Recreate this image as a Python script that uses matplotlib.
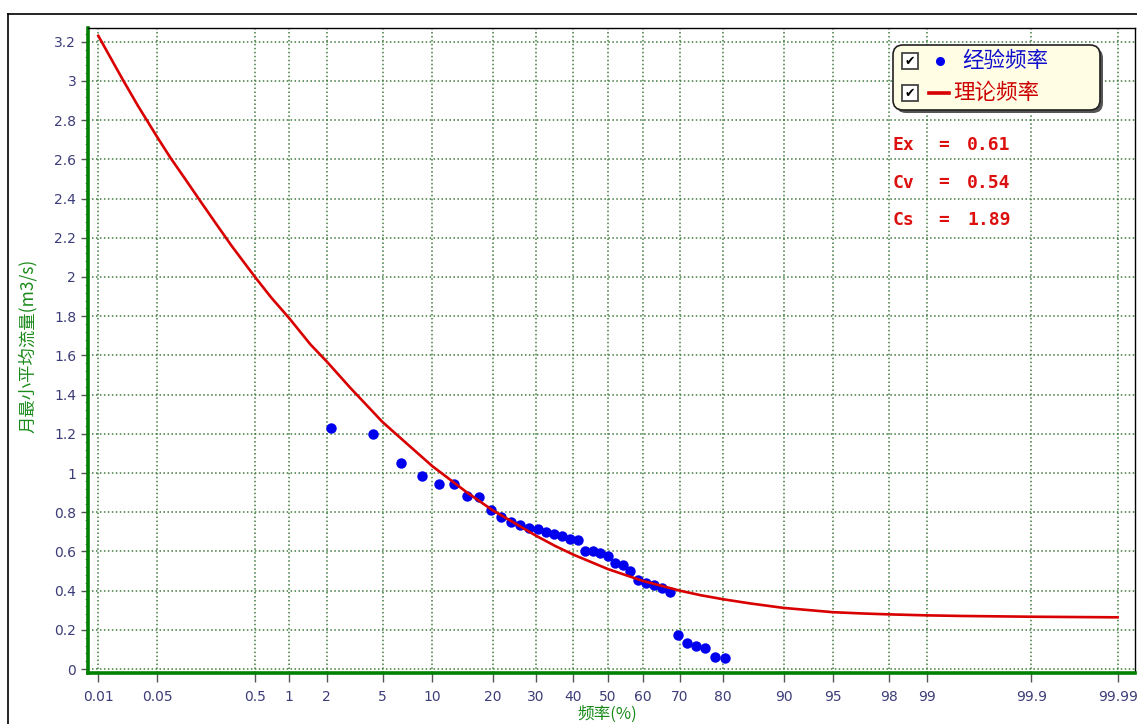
import numpy as np
import matplotlib
matplotlib.use("Agg")
import matplotlib.pyplot as plt
from matplotlib.patches import FancyBboxPatch, Rectangle
from matplotlib.lines import Line2D
from matplotlib.ticker import FixedLocator, MultipleLocator
from statistics import NormalDist

CJK = ['Noto Sans CJK SC', 'DejaVu Sans']

# empirical frequency (%) and monthly minimum mean flow (m3/s)
emp_freq = [2.17, 4.35, 6.52, 8.70, 10.87, 13.04, 15.22, 17.39, 19.57, 21.74,
            23.91, 26.09, 28.26, 30.43, 32.61, 34.78, 36.96, 39.13, 41.30, 43.48,
            45.65, 47.83, 50.00, 52.17, 54.35, 56.52, 58.70, 60.87, 63.04, 65.22,
            67.39, 69.57, 71.74, 73.91, 76.09, 78.26, 80.43]
emp_flow = [1.23, 1.20, 1.05, 0.985, 0.945, 0.945, 0.885, 0.88, 0.81, 0.775,
            0.75, 0.735, 0.72, 0.715, 0.70, 0.69, 0.68, 0.665, 0.66, 0.60,
            0.60, 0.59, 0.575, 0.54, 0.53, 0.50, 0.455, 0.44, 0.427, 0.415,
            0.394, 0.173, 0.131, 0.117, 0.105, 0.063, 0.055]

# theoretical curve
th_freq = [0.01, 0.015, 0.02, 0.03, 0.05, 0.07, 0.1, 0.15, 0.2, 0.3, 0.5, 0.7,
           1, 1.5, 2, 3, 5, 7, 10, 15, 20, 25, 30, 35, 40, 50, 60, 70, 75, 80,
           85, 90, 95, 97, 98, 99, 99.5, 99.9, 99.99]
th_flow = [3.23, 3.10, 3.006, 2.875, 2.715, 2.61, 2.505, 2.38, 2.29, 2.16, 2.00,
           1.895, 1.79, 1.655, 1.57, 1.435, 1.26, 1.155, 1.035, 0.905, 0.81,
           0.742, 0.68, 0.628, 0.584, 0.51, 0.45, 0.40, 0.377, 0.356, 0.335,
           0.312, 0.290, 0.283, 0.279, 0.274, 0.271, 0.267, 0.264]

xticks = [0.01, 0.05, 0.5, 1, 2, 5, 10, 20, 30, 40, 50, 60, 70, 80, 90, 95,
          98, 99, 99.9, 99.99]
xticklabels = ['0.01', '0.05', '0.5', '1', '2', '5', '10', '20', '30', '40',
               '50', '60', '70', '80', '90', '95', '98', '99', '99.9', '99.99']
yticks = [0, 0.2, 0.4, 0.6, 0.8, 1, 1.2, 1.4, 1.6, 1.8, 2, 2.2, 2.4, 2.6, 2.8,
          3, 3.2]
yticklabels = ['0', '0.2', '0.4', '0.6', '0.8', '1', '1.2', '1.4', '1.6', '1.8',
               '2', '2.2', '2.4', '2.6', '2.8', '3', '3.2']

params = [('Ex', '0.61'), ('Cv', '0.54'), ('Cs', '1.89')]

_nd = NormalDist()


def prob_fwd(p):
    p = np.clip(np.asarray(p, dtype=float), 1e-7, 100 - 1e-7)
    return np.vectorize(lambda v: _nd.inv_cdf(v / 100.0), otypes=[float])(p)


def prob_inv(z):
    z = np.asarray(z, dtype=float)
    return np.vectorize(lambda v: _nd.cdf(v) * 100.0, otypes=[float])(z)


W, H = 1137, 724
fig = plt.figure(figsize=(W / 100, H / 100), dpi=100)
ax = fig.add_axes([88 / W, 1 - 673 / H, (1135 - 88) / W, (673 - 28) / H])

ax.set_xscale('function', functions=(prob_fwd, prob_inv))
ax.set_xlim(0.0074, 99.994)
ax.set_ylim(-0.02, 3.27)

grid_c = '#3d7a3d'
ax.xaxis.set_major_locator(FixedLocator(xticks))
ax.set_xticklabels(xticklabels)
ax.xaxis.set_minor_locator(FixedLocator([]))
ax.yaxis.set_major_locator(FixedLocator(yticks))
ax.set_yticklabels(yticklabels)
ax.yaxis.set_minor_locator(MultipleLocator(0.04))
ax.grid(True, which='major', color=grid_c, linestyle=(0, (1, 1.6)), linewidth=1.1)

ax.tick_params(axis='both', which='major', colors='#555555', labelcolor='#3c3c78',
               labelsize=10, width=1)
ax.tick_params(axis='x', length=6.5, pad=6)
ax.tick_params(axis='y', length=5, pad=3.5)
ax.tick_params(axis='y', which='minor', length=2.5, colors='#777777')

for s in ['left', 'bottom']:
    ax.spines[s].set_color('#008000')
    ax.spines[s].set_linewidth(2.6)
for s in ['top', 'right']:
    ax.spines[s].set_color('black')
    ax.spines[s].set_linewidth(1)

ax.plot(emp_freq, emp_flow, linestyle='none', marker='o', markersize=7.5,
        color='#0000ee', markeredgewidth=0, zorder=3)
ax.plot(th_freq, th_flow, color='#d80000', linewidth=1.9, zorder=4)

# outer frame
fig.add_artist(Line2D([8 / W, 8 / W], [0, 1 - 14 / H], color='black', linewidth=1.2))
fig.add_artist(Line2D([8 / W, 1], [1 - 14 / H, 1 - 14 / H], color='black', linewidth=1.2))

fig.text(28 / W, 1 - 346 / H, '月最小平均流量(m3/s)', rotation=90, ha='center',
         va='center', color='#1a8a1a', fontsize=12.5, family=CJK)
fig.text(607 / W, 1 - 714 / H, '频率(%)', ha='center', va='center',
         color='#1a8a1a', fontsize=12, family=CJK)

# legend box (pixel coords from top-left converted to inches)
T = fig.dpi_scale_trans


def px(x, y):
    return x / 100.0, (H - y) / 100.0


bx, by = px(893, 110)
shadow = FancyBboxPatch((bx + 0.03, by - 0.03), 2.07, 0.65,
                        boxstyle='round,pad=0,rounding_size=0.1',
                        transform=T, facecolor='#555555', edgecolor='none', zorder=9)
box = FancyBboxPatch((bx, by), 2.07, 0.65, boxstyle='round,pad=0,rounding_size=0.1',
                     transform=T, facecolor='#fffde4', edgecolor='#222222',
                     linewidth=1.2, zorder=10)
fig.add_artist(shadow)
fig.add_artist(box)

for yc in [61, 93]:
    cx, cy = px(902, yc + 8)
    fig.add_artist(Rectangle((cx, cy), 0.16, 0.16, transform=T, facecolor='white',
                             edgecolor='#444444', linewidth=1.3, zorder=11))
    tx, ty = px(910, yc)
    fig.text(tx, ty, '✔', transform=T, ha='center', va='center', fontsize=9,
             color='black', family='DejaVu Sans', zorder=12)

mx, my = px(940, 61)
fig.add_artist(Line2D([mx], [my], transform=T, marker='o', markersize=5.5,
                      color='#0000ee', linestyle='none', zorder=12))
tx, ty = px(962, 61)
fig.text(tx, ty, '经验频率', transform=T, ha='left', va='center', fontsize=15.5,
         color='#1010cc', family=CJK, zorder=12)
lx0, ly = px(929, 93)
lx1, _ = px(949, 93)
fig.add_artist(Line2D([lx0, lx1], [ly, ly], transform=T, color='#d80000',
                      linewidth=2.6, zorder=12))
tx, ty = px(953, 93)
fig.text(tx, ty, '理论频率', transform=T, ha='left', va='center', fontsize=15.5,
         color='#cc0000', family=CJK, zorder=12)

# statistics text
for i, (k, v) in enumerate(params):
    yc = 145 + i * 37.5
    for xpos, s in [(893, k), (938, '='), (967, v)]:
        tx, ty = px(xpos, yc)
        fig.text(tx, ty, s, transform=T, ha='left', va='center', fontsize=13,
                 fontweight='bold', family='DejaVu Sans Mono', color='#dd1010')

fig.savefig('out.png', dpi=100)
